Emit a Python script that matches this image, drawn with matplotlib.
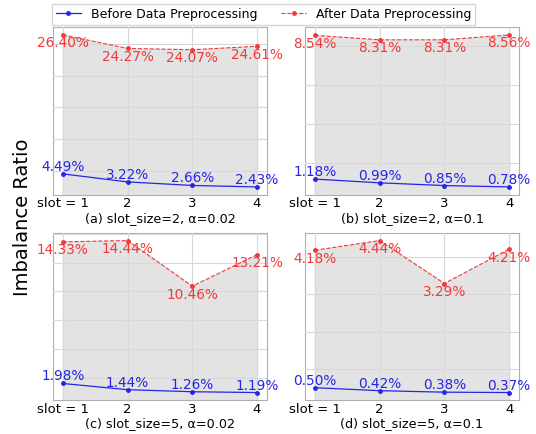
import numpy as np
import matplotlib.pyplot as plt

# slot index on the x axis
slots = [1, 2, 3, 4]
xtick_labels = ['slot = 1', '2', '3', '4']

# imbalance ratio (%) per panel
before_a = [4.49, 3.22, 2.66, 2.43]
after_a = [26.40, 24.27, 24.07, 24.61]
before_b = [1.18, 0.99, 0.85, 0.78]
after_b = [8.54, 8.31, 8.31, 8.56]
before_c = [1.98, 1.44, 1.26, 1.19]
after_c = [14.33, 14.44, 10.46, 13.21]
before_d = [0.50, 0.42, 0.38, 0.37]
after_d = [4.18, 4.44, 3.29, 4.21]

titles = ['(a) slot_size=2, α=0.02', '(b) slot_size=2, α=0.1',
          '(c) slot_size=5, α=0.02', '(d) slot_size=5, α=0.1']
before_all = [before_a, before_b, before_c, before_d]
after_all = [after_a, after_b, after_c, after_d]

blue = '#2525e8'
red = '#f03a3a'

fig, axes = plt.subplots(2, 2, figsize=(5.36, 4.34), dpi=100)
fig.subplots_adjust(left=0.099, right=0.968, top=0.937, bottom=0.078,
                    wspace=0.18, hspace=0.23)

for ax, before, after, title in zip(axes.flat, before_all, after_all, titles):
    ax.fill_between(slots, 0, after, color='#e3e3e3', zorder=1)
    l1, = ax.plot(slots, before, '-', color=blue, marker='o', markersize=2.5,
                  linewidth=0.9, label='Before Data Preprocessing', zorder=3)
    l2, = ax.plot(slots, after, '--', color=red, marker='o', markersize=2.5,
                  linewidth=0.8, label='After Data Preprocessing', zorder=3)
    ax.set_ylim(min(before) - 0.05 * (max(after) - min(before)),
                max(after) + 0.05 * (max(after) - min(before)))
    for x, v in zip(slots, before):
        ax.annotate(f'{v:.2f}%', (x, v), xytext=(0, 0), textcoords='offset points',
                    ha='center', va='bottom', color=blue, fontsize=9.8, zorder=4)
    for x, v in zip(slots, after):
        ax.annotate(f'{v:.2f}%', (x, v), xytext=(0, -1), textcoords='offset points',
                    ha='center', va='top', color=red, fontsize=9.8, zorder=4)
    ax.set_xticks(slots)
    ax.set_xticklabels(xtick_labels, fontsize=9.5)
    ax.tick_params(axis='y', labelleft=False, length=0)
    ax.tick_params(axis='x', length=0, pad=2)
    ax.grid(True, color='#d8d8d8', linewidth=0.8, zorder=2)
    ax.set_axisbelow(False)
    for s in ax.spines.values():
        s.set_color('#b0b0b0')
    ax.set_xlabel(title, fontsize=9.2, labelpad=1)

fig.legend([l1, l2], ['Before Data Preprocessing', 'After Data Preprocessing'],
           loc='upper center', ncol=2, bbox_to_anchor=(0.492, 1.005), fontsize=9,
           frameon=True, fancybox=False, edgecolor='#cccccc', borderpad=0.3,
           columnspacing=1.9, handlelength=2.0)
fig.text(0.042, 0.5, 'Imbalance Ratio', rotation=90, va='center', ha='center',
         fontsize=14)

fig.savefig('out.png')
